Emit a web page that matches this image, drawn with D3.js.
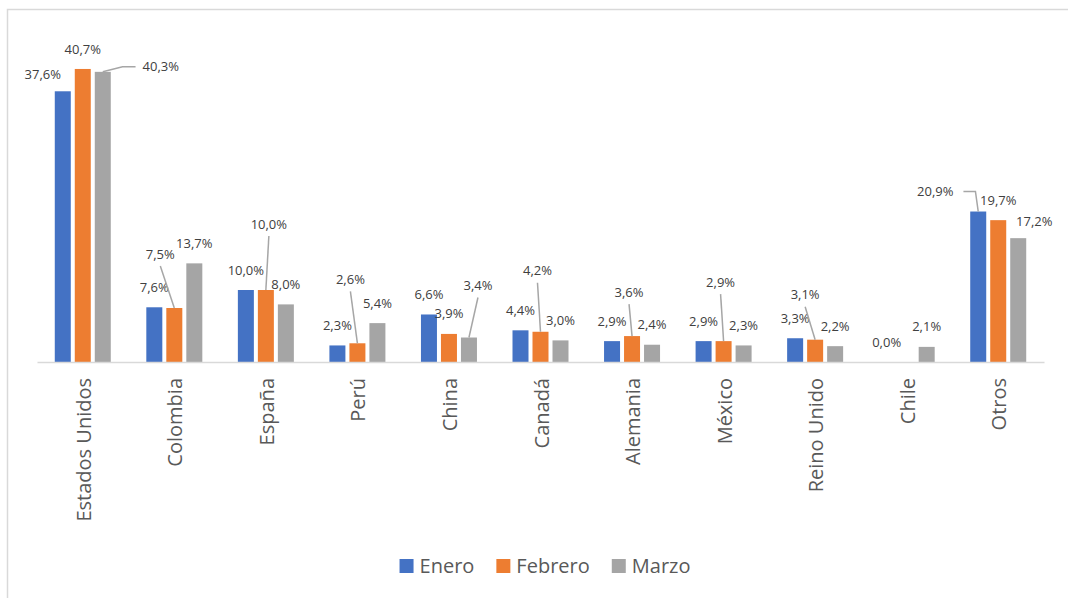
<!DOCTYPE html>
<html>
<head>
<meta charset="utf-8">
<script src="https://cdn.jsdelivr.net/npm/d3@7"></script>
<style>
  body { margin: 0; background: #fff; }
  text { font-family: "Open Sans", sans-serif; }
</style>
</head>
<body>
<div id="chart"></div>
<script>
const width = 1068, height = 598;

// Data
const categories = ["Estados Unidos", "Colombia", "España", "Perú", "China", "Canadá", "Alemania", "México", "Reino Unido", "Chile", "Otros"];
const series = ["Enero", "Febrero", "Marzo"];
const enero   = [37.6, 7.6, 10.0, 2.3, 6.6, 4.4, 2.9, 2.9, 3.3, 0.0, 20.9];
const febrero = [40.7, 7.5, 10.0, 2.6, 3.9, 4.2, 3.6, 2.9, 3.1, null, 19.7];
const marzo   = [40.3, 13.7, 8.0, 5.4, 3.4, 3.0, 2.4, 2.3, 2.2, 2.1, 17.2];
const colors  = ["#4472C4", "#ED7D31", "#A5A5A5"];

// Moved data labels (offset from default spot above bar), some with leader lines
const labelMoves = {
    "Estados Unidos|Enero": { dx: -20, dy: 3 },
    "Estados Unidos|Marzo": { dx: 58, dy: 15, leader: "side" },
    "Colombia|Febrero": { dx: -14, dy: -34, leader: "down" },
    "España|Febrero": { dx: 3, dy: -46, leader: "down" },
    "Perú|Febrero": { dx: -7, dy: -44, leader: "down" },
    "China|Marzo": { dx: 9, dy: -32, leader: "down" },
    "Canadá|Febrero": { dx: -3, dy: -41, leader: "down" },
    "Alemania|Febrero": { dx: -3, dy: -24, leader: "down" },
    "México|Febrero": { dx: -3, dy: -39, leader: "down" },
    "Reino Unido|Febrero": { dx: -10, dy: -25, leader: "down" },
    "Otros|Enero": { dx: -43, dy: 0, leader: "side" },
    "Otros|Marzo": { dx: 16, dy: 3 }
};

const values = [enero, febrero, marzo];
const rows = [];
categories.forEach((c, i) => {
    series.forEach((s, j) => {
        rows.push({ cat: c, series: s, si: j, value: values[j][i] });
    });
});

const svg = d3.select("#chart").append("svg")
    .attr("width", width)
    .attr("height", height);

// chart frame (cut by the picture on right and bottom)
svg.append("rect")
    .attr("x", 7.5).attr("y", 9.5)
    .attr("width", 1200).attr("height", 800)
    .attr("fill", "none")
    .attr("stroke", "#D9D9D9")
    .attr("stroke-width", 1.5);

const x0 = d3.scaleBand().domain(categories).range([37, 1044]);
const x1 = d3.scaleBand().domain(series).range([0, 56]).paddingInner(0.2);
const y = d3.scaleLinear().domain([0, 45]).range([362, 38]);

const barX = d => x0(d.cat) + x0.bandwidth() / 2 - 28 + x1(d.series);

// bars
svg.append("g")
    .selectAll("rect")
    .data(rows.filter(d => d.value !== null))
    .enter().append("rect")
    .attr("x", barX)
    .attr("y", d => y(d.value))
    .attr("width", x1.bandwidth())
    .attr("height", d => y(0) - y(d.value))
    .attr("fill", d => colors[d.si]);

// axis
const xAxis = svg.append("g")
    .attr("transform", `translate(0,${y(0)})`)
    .call(d3.axisBottom(x0).tickSize(0).tickSizeOuter(0));
xAxis.select(".domain").attr("stroke", "#D9D9D9").attr("stroke-width", 1.5);
xAxis.selectAll("text")
    .attr("transform", "rotate(-90)")
    .attr("x", -16)
    .attr("y", 8)
    .attr("dy", 0)
    .attr("text-anchor", "end")
    .style("font-family", "'Open Sans', sans-serif")
    .style("font-size", "20px")
    .attr("fill", "#595959");

// data labels
const fmt = v => v.toFixed(1).replace(".", ",") + "%";
const labelG = svg.append("g");
rows.filter(d => d.value !== null).forEach(d => {
    const bx = barX(d) + x1.bandwidth() / 2;
    const by = y(d.value);
    const mv = labelMoves[d.cat + "|" + d.series] || { dx: 0, dy: 0 };
    const cx = bx + mv.dx, cy = by - 20 + mv.dy;
    const t = labelG.append("text")
        .attr("x", cx)
        .attr("y", cy)
        .attr("dy", "0.35em")
        .attr("text-anchor", "middle")
        .style("font-size", "13px")
        .attr("fill", "#404040")
        .text(fmt(d.value));
    if (mv.leader) {
        const w = t.node().getComputedTextLength();
        let pts;
        if (mv.leader === "down") {
            pts = [[cx, cy + 12], [bx, by]];
        } else if (mv.dx > 0) {
            const edge = cx - w / 2;
            pts = [[bx, by], [edge - 20, cy], [edge - 7, cy]];
        } else {
            const edge = cx + w / 2;
            pts = [[edge + 10, cy], [edge + 22, cy], [bx, by]];
        }
        labelG.append("path")
            .attr("d", d3.line()(pts))
            .attr("fill", "none")
            .attr("stroke", "#A6A6A6")
            .attr("stroke-width", 1.5);
    }
});

// legend
const legend = svg.append("g");
const items = series.map((s, i) => {
    const g = legend.append("g");
    g.append("rect").attr("width", 14).attr("height", 14).attr("y", -14).attr("fill", colors[i]);
    const t = g.append("text").attr("x", 20).attr("y", 0)
        .style("font-size", "20px").attr("fill", "#595959").text(s);
    return { g, w: 20 + t.node().getComputedTextLength() };
});
const gap = 22;
const total = d3.sum(items, d => d.w) + gap * (items.length - 1);
let lx = 545 - total / 2;
items.forEach(it => {
    it.g.attr("transform", `translate(${lx},573)`);
    lx += it.w + gap;
});
</script>
</body>
</html>
